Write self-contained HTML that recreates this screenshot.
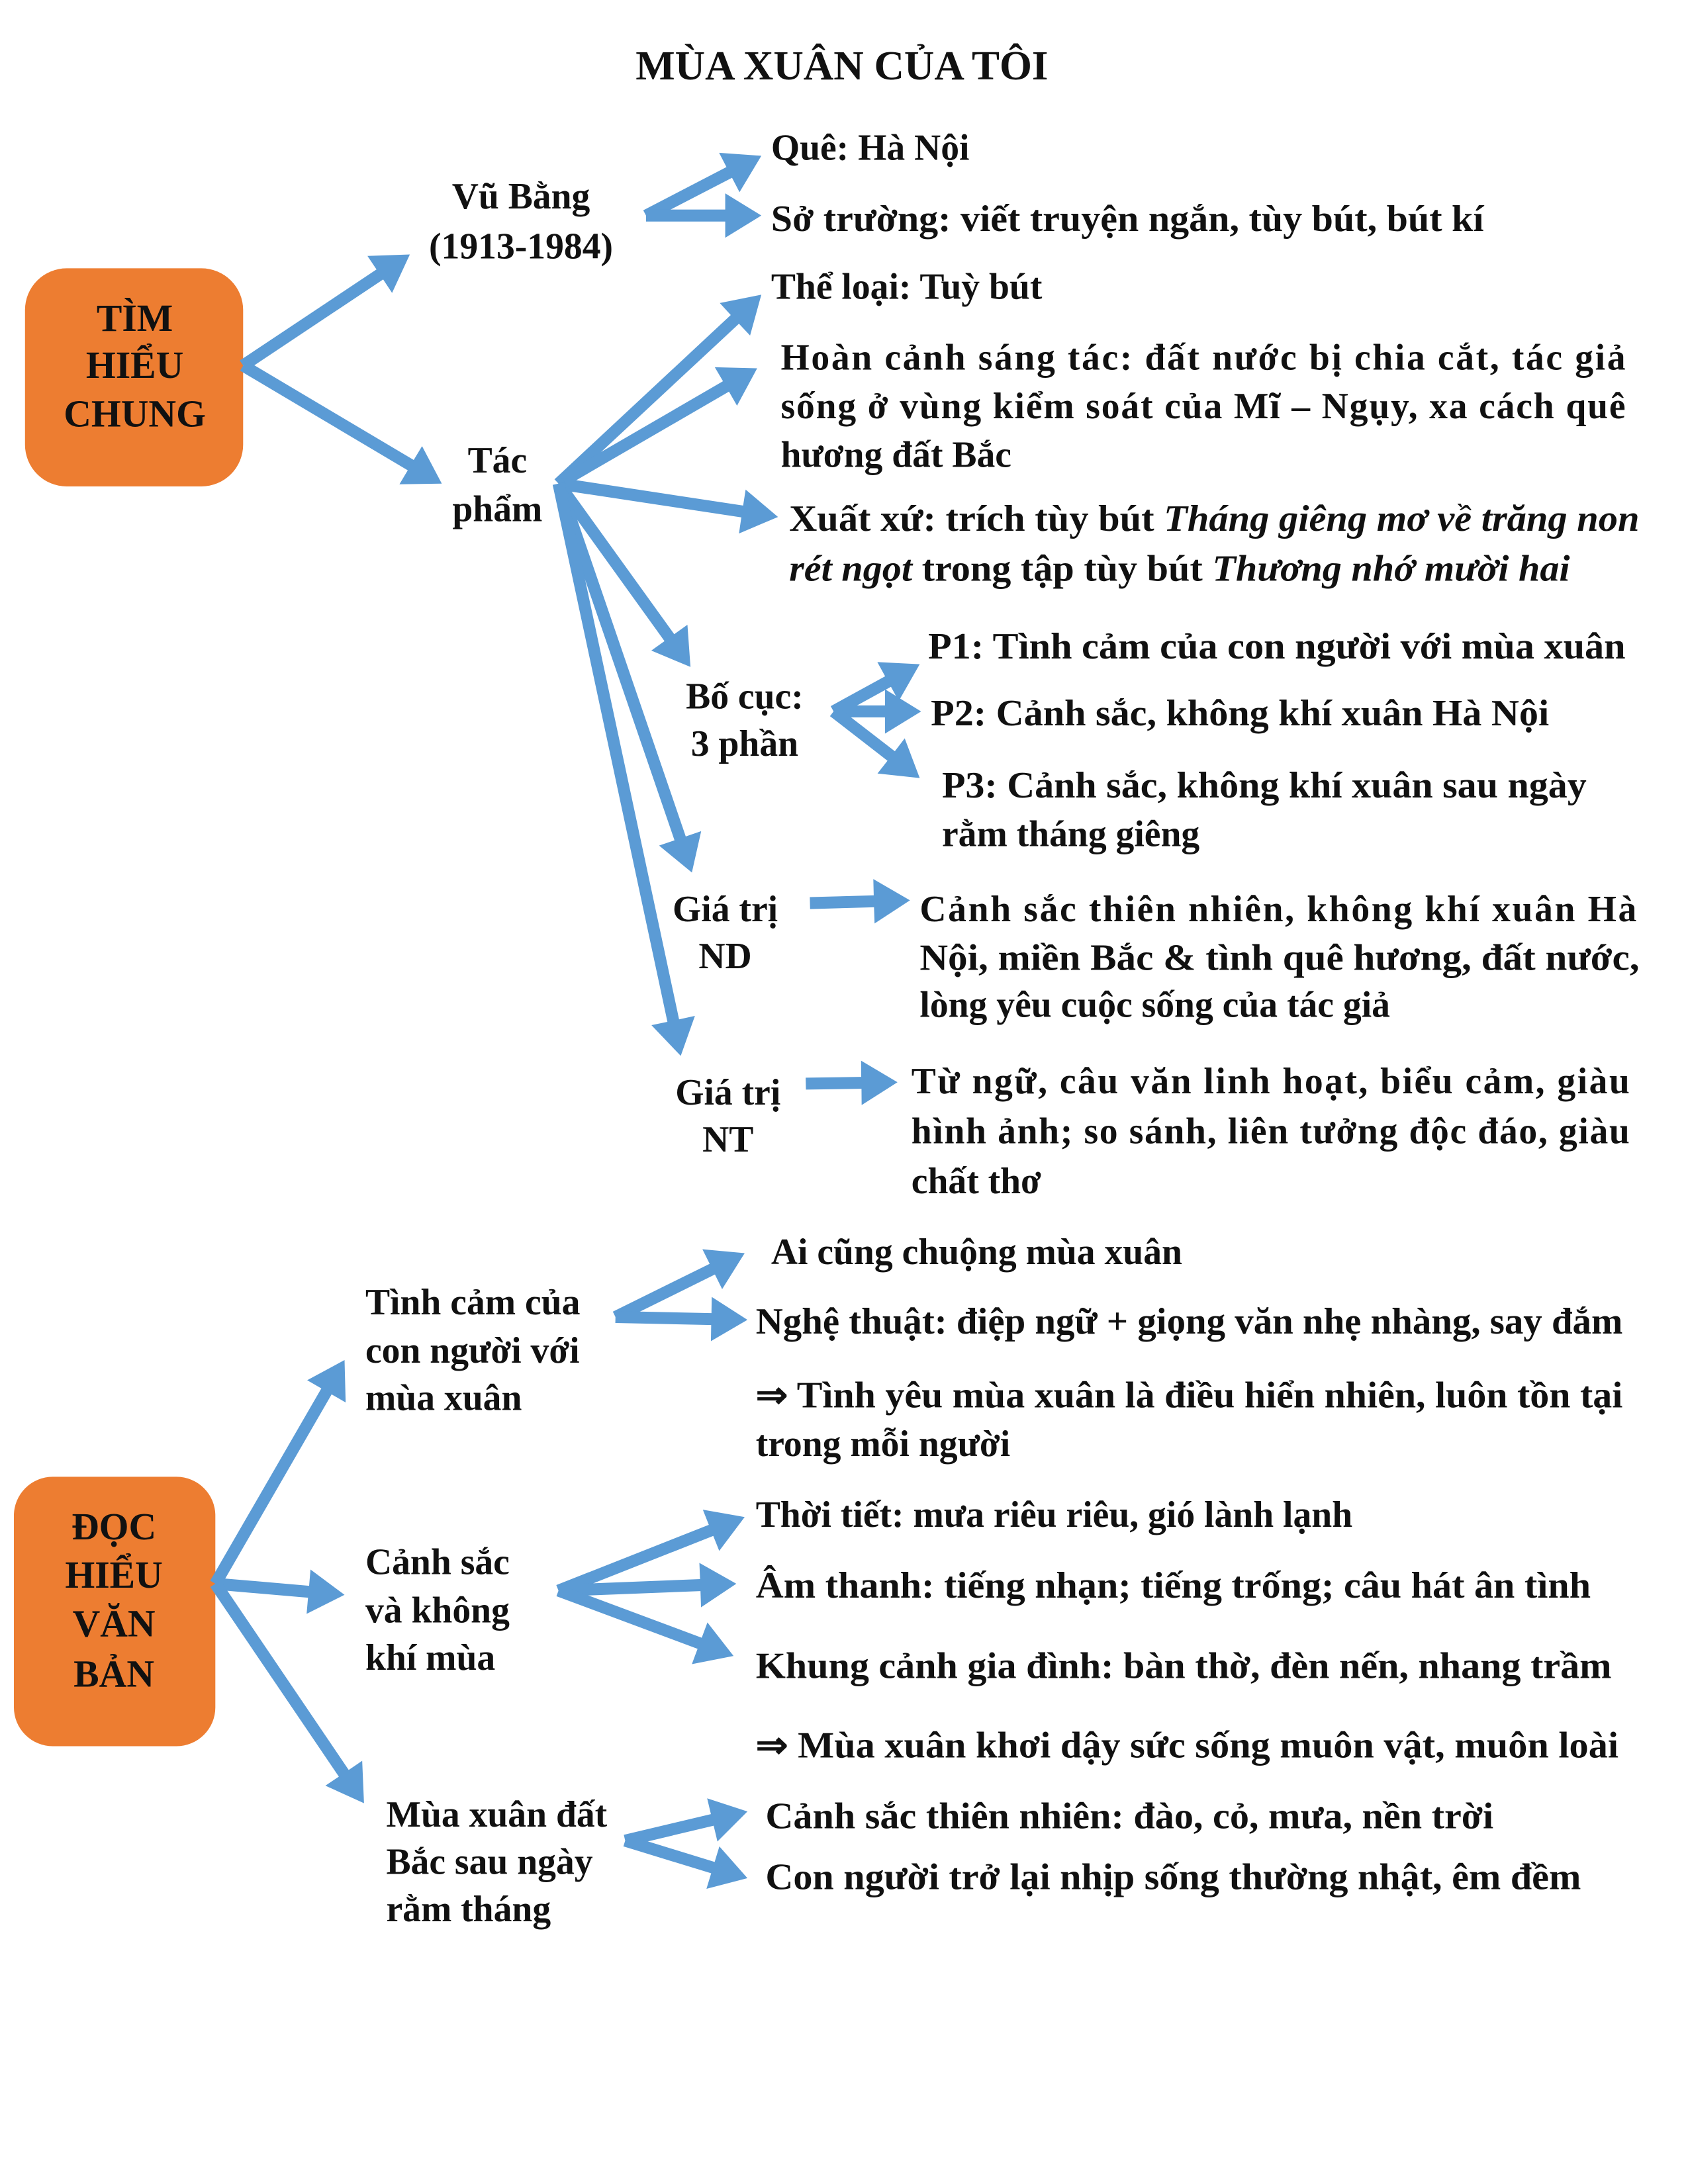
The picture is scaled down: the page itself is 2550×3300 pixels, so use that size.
<!DOCTYPE html>
<html><head><meta charset="utf-8">
<style>
html,body{margin:0;padding:0;background:#fff;}
svg{display:block;}
text{font-family:"Liberation Serif","Times New Roman",serif;font-weight:bold;font-size:26.5px;fill:#111;}
.c{text-anchor:middle;}
.i{font-style:italic;}
.b{font-size:27.5px;}
</style></head>
<body>
<svg id="s" width="2550" height="3300" viewBox="0 0 1215 1572" xmlns="http://www.w3.org/2000/svg">
<rect x="0" y="0" width="1215" height="1572" fill="#fff"/>
<text class="c" x="606" y="57" style="font-size:30px">MÙA XUÂN CỦA TÔI</text>

<rect x="18" y="193" width="157" height="157" rx="30" fill="#ED7D31"/>
<text class="c b" x="97" y="238">TÌM</text>
<text class="c b" x="97" y="272">HIỂU</text>
<text class="c b" x="97" y="307">CHUNG</text>

<rect x="10" y="1063" width="145" height="194" rx="28" fill="#ED7D31"/>
<text class="c b" x="82" y="1108">ĐỌC</text>
<text class="c b" x="82" y="1143">HIỂU</text>
<text class="c b" x="82" y="1178">VĂN</text>
<text class="c b" x="82" y="1214">BẢN</text>

<g id="arrows" fill="#5B9BD5" stroke="none"></g>

<text class="c" x="375" y="150">Vũ Bằng</text>
<text class="c" x="375" y="186">(1913-1984)</text>
<text x="555" y="115">Quê: Hà Nội</text>
<text x="555" y="166" textLength="513" lengthAdjust="spacingAndGlyphs">Sở trường: viết truyện ngắn, tùy bút, bút kí</text>
<text x="555" y="215">Thể loại: Tuỳ bút</text>
<text x="562" y="266" textLength="608" lengthAdjust="spacing">Hoàn cảnh sáng tác: đất nước bị chia cắt, tác giả</text>
<text x="562" y="301" textLength="608" lengthAdjust="spacing">sống ở vùng kiểm soát của Mĩ – Ngụy, xa cách quê</text>
<text x="562" y="336">hương đất Bắc</text>
<text class="c" x="358" y="340">Tác</text>
<text class="c" x="358" y="375">phẩm</text>
<text x="568" y="382" textLength="612" lengthAdjust="spacingAndGlyphs">Xuất xứ: trích tùy bút <tspan class="i">Tháng giêng mơ về trăng non</tspan></text>
<text x="568" y="418" textLength="562" lengthAdjust="spacingAndGlyphs"><tspan class="i">rét ngọt</tspan> trong tập tùy bút <tspan class="i">Thương nhớ mười hai</tspan></text>
<text class="c" x="536" y="510">Bố cục:</text>
<text class="c" x="536" y="544">3 phần</text>
<text x="668" y="474" textLength="502" lengthAdjust="spacingAndGlyphs">P1: Tình cảm của con người với mùa xuân</text>
<text x="670" y="522" textLength="445" lengthAdjust="spacingAndGlyphs">P2: Cảnh sắc, không khí xuân Hà Nội</text>
<text x="678" y="574" textLength="464" lengthAdjust="spacingAndGlyphs">P3: Cảnh sắc, không khí xuân sau ngày</text>
<text x="678" y="609">rằm tháng giêng</text>
<text class="c" x="522" y="663">Giá trị</text>
<text class="c" x="522" y="697">ND</text>
<text x="662" y="663" textLength="516" lengthAdjust="spacing">Cảnh sắc thiên nhiên, không khí xuân Hà</text>
<text x="662" y="698" textLength="518" lengthAdjust="spacingAndGlyphs">Nội, miền Bắc &amp; tình quê hương, đất nước,</text>
<text x="662" y="732">lòng yêu cuộc sống của tác giả</text>
<text class="c" x="524" y="795">Giá trị</text>
<text class="c" x="524" y="829">NT</text>
<text x="656" y="787" textLength="517" lengthAdjust="spacing">Từ ngữ, câu văn linh hoạt, biểu cảm, giàu</text>
<text x="656" y="823" textLength="517" lengthAdjust="spacing">hình ảnh; so sánh, liên tưởng độc đáo, giàu</text>
<text x="656" y="859">chất thơ</text>

<text x="555" y="910">Ai cũng chuộng mùa xuân</text>
<text x="263" y="946">Tình cảm của</text>
<text x="263" y="981">con người với</text>
<text x="263" y="1015">mùa xuân</text>
<text x="544" y="960" textLength="624" lengthAdjust="spacingAndGlyphs">Nghệ thuật: điệp ngữ + giọng văn nhẹ nhàng, say đắm</text>
<text x="544" y="1013" textLength="624" lengthAdjust="spacingAndGlyphs">⇒ Tình yêu mùa xuân là điều hiển nhiên, luôn tồn tại</text>
<text x="544" y="1048">trong mỗi người</text>
<text x="544" y="1099">Thời tiết: mưa riêu riêu, gió lành lạnh</text>
<text x="263" y="1133">Cảnh sắc</text>
<text x="263" y="1168">và không</text>
<text x="263" y="1202">khí mùa</text>
<text x="544" y="1150" textLength="601" lengthAdjust="spacingAndGlyphs">Âm thanh: tiếng nhạn; tiếng trống; câu hát ân tình</text>
<text x="544" y="1208" textLength="616" lengthAdjust="spacingAndGlyphs">Khung cảnh gia đình: bàn thờ, đèn nến, nhang trầm</text>
<text x="544" y="1265" textLength="621" lengthAdjust="spacingAndGlyphs">⇒ Mùa xuân khơi dậy sức sống muôn vật, muôn loài</text>
<text x="278" y="1315">Mùa xuân đất</text>
<text x="278" y="1349">Bắc sau ngày</text>
<text x="278" y="1383">rằm tháng</text>
<text x="551" y="1316" textLength="524" lengthAdjust="spacingAndGlyphs">Cảnh sắc thiên nhiên: đào, cỏ, mưa, nền trời</text>
<text x="551" y="1360" textLength="587" lengthAdjust="spacingAndGlyphs">Con người trở lại nhịp sống thường nhật, êm đềm</text>
</svg>
<script>
var A=[
[175,263,295,183],[175,263,318,348],
[465,155,548,112],[465,155,548,155],
[402,348,548,212],[402,348,545,265],[402,348,560,372],[402,348,497,480],[402,348,498,628],[402,348,490,760],
[600,512,662,478],[600,512,663,512],[600,512,662,560],
[583,650,655,648],[580,780,646,779],
[443,948,536,902],[443,948,538,950],
[155,1140,248,979],[155,1140,248,1148],[155,1140,262,1298],
[402,1145,536,1092],[402,1145,530,1140],[402,1145,528,1192],
[450,1325,538,1304],[450,1325,538,1352]];
var g=document.getElementById('arrows'),ns='http://www.w3.org/2000/svg';
A.forEach(function(a){
 var dx=a[2]-a[0],dy=a[3]-a[1],L=Math.sqrt(dx*dx+dy*dy),ux=dx/L,uy=dy/L,px=-uy,py=ux;
 var w=4.3,hw=16,hl=26;
 var bx=a[2]-ux*hl,by=a[3]-uy*hl;
 var pts=[[a[0]+px*w,a[1]+py*w],[bx+px*w,by+py*w],[bx+px*hw,by+py*hw],[a[2],a[3]],[bx-px*hw,by-py*hw],[bx-px*w,by-py*w],[a[0]-px*w,a[1]-py*w]];
 var p=document.createElementNS(ns,'polygon');
 p.setAttribute('points',pts.map(function(q){return q[0].toFixed(1)+','+q[1].toFixed(1)}).join(' '));
 g.appendChild(p);
});
</script>
</body></html>
